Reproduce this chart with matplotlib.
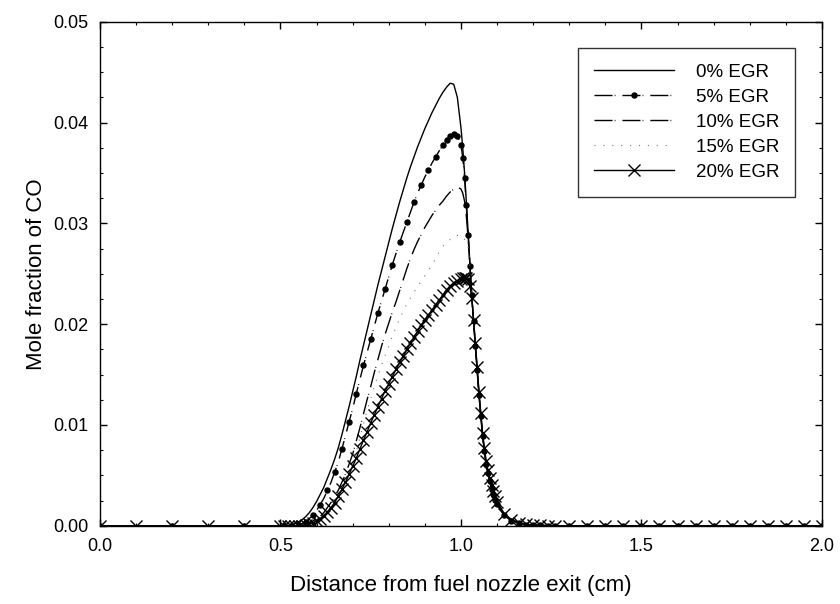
import matplotlib
matplotlib.use("Agg")
import matplotlib.pyplot as plt
from matplotlib.ticker import MultipleLocator, FormatStrFormatter

plt.rcParams["font.family"] = ["Liberation Sans", "DejaVu Sans"]

# distance from fuel nozzle exit (cm)
x_cm = [0.0, 0.1, 0.2, 0.3, 0.4, 0.5,
        0.51, 0.52, 0.53, 0.54, 0.55, 0.56, 0.57, 0.58, 0.59, 0.60,
        0.61, 0.62, 0.63, 0.64, 0.65, 0.66, 0.67, 0.68, 0.69, 0.70,
        0.71, 0.72, 0.73, 0.74, 0.75, 0.76, 0.77, 0.78, 0.79, 0.80,
        0.81, 0.82, 0.83, 0.84, 0.85, 0.86, 0.87, 0.88, 0.89, 0.90,
        0.91, 0.92, 0.93, 0.94, 0.95, 0.96, 0.97, 0.98, 0.99,
        1.0, 1.005, 1.01, 1.015, 1.02, 1.025, 1.03, 1.035, 1.04, 1.045,
        1.05, 1.055, 1.06, 1.065, 1.07, 1.075, 1.08, 1.085, 1.09, 1.095, 1.1,
        1.12, 1.14, 1.16, 1.18, 1.2, 1.22, 1.24, 1.26,
        1.3, 1.35, 1.4, 1.45, 1.5, 1.55, 1.6, 1.65, 1.7, 1.75,
        1.8, 1.85, 1.9, 1.95, 2.0]

# CO mole fraction, one list per EGR level
co_0 = [0, 0, 0, 0, 0, 0,
        0.0, 0.0, 0.0001, 0.0002, 0.0004, 0.0006, 0.0009, 0.0013, 0.0018, 0.0024,
        0.0031, 0.0038, 0.0047, 0.0056, 0.0066, 0.0077, 0.0090, 0.0104, 0.0118, 0.0133,
        0.0148, 0.0164, 0.0179, 0.0194, 0.0209, 0.0224, 0.0239, 0.0253, 0.0267, 0.0281,
        0.0295, 0.0308, 0.0321, 0.0333, 0.0345, 0.0356, 0.0366, 0.0376, 0.0385, 0.0394,
        0.0402, 0.0410, 0.0417, 0.0424, 0.0430, 0.0435, 0.0439, 0.0438, 0.0425,
        0.0395, 0.0375, 0.0350, 0.0321, 0.0290, 0.0259, 0.0228, 0.0202, 0.0177, 0.0153,
        0.0129, 0.0108, 0.0088, 0.0073, 0.0060, 0.0051, 0.0043, 0.0036, 0.0030, 0.0025, 0.0021,
        0.0010, 0.0005, 0.00025, 0.00012, 0.00006, 0.00003, 0.00001, 0.0,
        0, 0, 0, 0, 0, 0, 0, 0, 0, 0, 0, 0, 0, 0, 0]
co_5 = [0, 0, 0, 0, 0, 0,
        0.0, 0.0, 0.0, 0.0, 0.0001, 0.0002, 0.0004, 0.0007, 0.0011, 0.0015,
        0.0021, 0.0027, 0.0035, 0.0043, 0.0053, 0.0063, 0.0076, 0.0089, 0.0103, 0.0116,
        0.0131, 0.0145, 0.0159, 0.0172, 0.0185, 0.0198, 0.0211, 0.0223, 0.0235, 0.0247,
        0.0259, 0.0270, 0.0281, 0.0291, 0.0301, 0.0311, 0.0321, 0.0330, 0.0338, 0.0346,
        0.0353, 0.0360, 0.0366, 0.0372, 0.0378, 0.0383, 0.0387, 0.0389, 0.0387,
        0.0378, 0.0365, 0.0345, 0.0318, 0.0288, 0.0258, 0.0229, 0.0203, 0.0178, 0.0154,
        0.0130, 0.0109, 0.0089, 0.0074, 0.0061, 0.0052, 0.0044, 0.0037, 0.0031, 0.0026, 0.0022,
        0.0011, 0.0005, 0.00025, 0.00012, 0.00006, 0.00003, 0.00001, 0.0,
        0, 0, 0, 0, 0, 0, 0, 0, 0, 0, 0, 0, 0, 0, 0]
co_10 = [0, 0, 0, 0, 0, 0,
         0.0, 0.0, 0.0, 0.0, 0.0, 0.0, 0.0001, 0.0002, 0.0004, 0.0006,
         0.0009, 0.0013, 0.0018, 0.0023, 0.0029, 0.0035, 0.0043, 0.0051, 0.0061, 0.0071,
         0.0084, 0.0097, 0.0111, 0.0125, 0.0138, 0.0152, 0.0165, 0.0178, 0.0190, 0.0201,
         0.0212, 0.0222, 0.0233, 0.0244, 0.0255, 0.0265, 0.0274, 0.0282, 0.0289, 0.0296,
         0.0302, 0.0308, 0.0313, 0.0318, 0.0322, 0.0327, 0.0331, 0.0334, 0.0336,
         0.0334, 0.0330, 0.0322, 0.0307, 0.0285, 0.0257, 0.0228, 0.0203, 0.0179, 0.0155,
         0.0131, 0.0110, 0.0090, 0.0075, 0.0062, 0.0053, 0.0045, 0.0038, 0.0032, 0.0027, 0.0022,
         0.0011, 0.0006, 0.0003, 0.00014, 0.00007, 0.00003, 0.00001, 0.0,
         0, 0, 0, 0, 0, 0, 0, 0, 0, 0, 0, 0, 0, 0, 0]
co_15 = [0, 0, 0, 0, 0, 0,
         0.0, 0.0, 0.0, 0.0, 0.0, 0.0, 0.0, 0.0001, 0.0002, 0.0004,
         0.0006, 0.0009, 0.0013, 0.0017, 0.0022, 0.0028, 0.0035, 0.0042, 0.0051, 0.0061,
         0.0074, 0.0087, 0.0101, 0.0114, 0.0126, 0.0138, 0.0149, 0.0159, 0.0169, 0.0178,
         0.0188, 0.0197, 0.0205, 0.0213, 0.0220, 0.0226, 0.0232, 0.0237, 0.0243, 0.0248,
         0.0253, 0.0259, 0.0265, 0.0272, 0.0277, 0.0281, 0.0284, 0.0287, 0.0288,
         0.0288, 0.0287, 0.0284, 0.0281, 0.0276, 0.0256, 0.0229, 0.0204, 0.0180, 0.0156,
         0.0132, 0.0111, 0.0091, 0.0076, 0.0063, 0.0054, 0.0046, 0.0039, 0.0033, 0.0028, 0.0023,
         0.0012, 0.0006, 0.0003, 0.00015, 0.00007, 0.00003, 0.00001, 0.0,
         0, 0, 0, 0, 0, 0, 0, 0, 0, 0, 0, 0, 0, 0, 0]
co_20 = [0, 0, 0, 0, 0, 0,
         0.0, 0.0, 0.0, 0.0, 0.0, 0.0, 0.0001, 0.0002, 0.0003, 0.0005,
         0.0007, 0.0010, 0.0014, 0.0018, 0.0023, 0.0029, 0.0036, 0.0043, 0.0051, 0.0059,
         0.0067, 0.0076, 0.0085, 0.0093, 0.0102, 0.0110, 0.0118, 0.0126, 0.0134, 0.0141,
         0.0148, 0.0155, 0.0162, 0.0168, 0.0175, 0.0181, 0.0187, 0.0193, 0.0199, 0.0204,
         0.0209, 0.0214, 0.0219, 0.0224, 0.0229, 0.0234, 0.0238, 0.0241, 0.0243,
         0.0245, 0.0246, 0.0246, 0.0246, 0.0245, 0.0238, 0.0226, 0.0204, 0.0181, 0.0157,
         0.0133, 0.0112, 0.0092, 0.0077, 0.0064, 0.0055, 0.0047, 0.0040, 0.0034, 0.0029, 0.0024,
         0.0012, 0.0006, 0.0003, 0.00015, 0.00008, 0.00004, 0.00002, 0.0,
         0, 0, 0, 0, 0, 0, 0, 0, 0, 0, 0, 0, 0, 0, 0]

labels = ["0% EGR", "5% EGR", "10% EGR", "15% EGR", "20% EGR"]

fig = plt.figure(figsize=(8.4, 6.04), dpi=100)
ax = fig.add_axes([0.119, 0.1296, 0.8595, 0.8344])

# 5% dots: every other point on the rise, all points near the peak/fall
dots_5 = [i for i, x in enumerate(x_cm) if (x < 0.96 and i % 2 == 0) or x >= 0.96]
dash_dot = (0, (13, 1.5, 0.6, 5))

ax.plot(x_cm, co_0, color="black", lw=1.0, ls="-", label=labels[0])
ax.plot(x_cm, co_5, color="black", lw=1.0, ls=dash_dot,
        marker="o", ms=3.6, markevery=dots_5, label=labels[1])
ax.plot(x_cm, co_10, color="black", lw=1.0, ls=dash_dot, label=labels[2])
ax.plot(x_cm, co_15, color="#777777", lw=0.8, ls=(0, (1, 7)), label=labels[3])
ax.plot(x_cm, co_20, color="black", lw=1.0, ls="-", marker="x", ms=8, mew=1.0,
        label=labels[4])

ax.set_xlim(0, 2.0)
ax.set_ylim(0, 0.05)
ax.xaxis.set_major_locator(MultipleLocator(0.5))
ax.xaxis.set_minor_locator(MultipleLocator(0.1))
ax.yaxis.set_major_locator(MultipleLocator(0.01))
ax.yaxis.set_minor_locator(MultipleLocator(0.0025))
ax.xaxis.set_major_formatter(FormatStrFormatter("%.1f"))
ax.yaxis.set_major_formatter(FormatStrFormatter("%.2f"))
ax.tick_params(which="both", direction="in", top=True, right=True, labelsize=13)
ax.tick_params(which="major", length=5, width=1)
ax.tick_params(which="minor", length=2.5, width=0.8)
ax.tick_params(axis="x", pad=9)
ax.tick_params(axis="y", pad=8)
for sp in ax.spines.values():
    sp.set_linewidth(1.0)

ax.set_xlabel("Distance from fuel nozzle exit (cm)", fontsize=16, labelpad=14)
ax.set_ylabel("Mole fraction of CO", fontsize=16, labelpad=5)

leg = ax.legend(loc="upper left", bbox_to_anchor=(0.662, 0.948), borderaxespad=0,
                fontsize=13.5, frameon=True, fancybox=False, edgecolor="black",
                handlelength=4.3, labelspacing=0.42, handletextpad=1.15,
                borderpad=0.85)
leg.get_frame().set_linewidth(1.0)

fig.savefig("out.png", dpi=100)
plt.close(fig)
